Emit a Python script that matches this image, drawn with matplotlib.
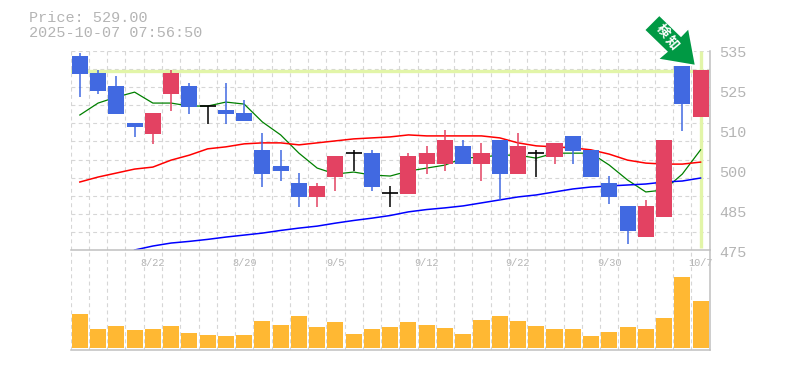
import numpy as np
import matplotlib
matplotlib.use("Agg")
import matplotlib.pyplot as plt
from matplotlib.patches import Polygon, Rectangle

plt.rcParams['font.family'] = ['Liberation Mono', 'Noto Sans CJK JP', 'DejaVu Sans']

# candles, 35 trading days
opens = [533.5, 528.4, 524.4, 513.3, 510.0, 522.0, 524.4, 518.4, 517.2, 516.3,
         505.2, 500.3, 495.2, 491.0, 497.0, 504.2, 504.2, 492.2, 491.9, 500.9,
         500.9, 506.4, 500.9, 508.2, 497.9, 504.2, 503.0, 509.4, 505.2, 495.2,
         488.3, 478.9, 485.0, 530.5, 515.1]
closes = [528.1, 522.9, 516.0, 512.1, 516.3, 528.4, 518.1, 518.4, 516.0, 513.9,
          497.9, 498.8, 491.0, 494.3, 503.3, 504.2, 494.0, 492.2, 503.3, 504.2,
          508.2, 500.9, 504.2, 497.9, 506.4, 504.2, 507.3, 504.9, 497.0, 491.0,
          480.7, 488.3, 508.2, 519.0, 529.3]
highs = [534.4, 529.3, 527.5, 513.3, 516.3, 529.3, 525.4, 518.4, 525.4, 520.2,
         510.3, 505.2, 498.2, 495.2, 503.3, 505.2, 505.2, 494.3, 504.2, 506.4,
         511.2, 508.2, 507.3, 508.2, 510.3, 505.2, 507.3, 509.4, 505.2, 497.3,
         488.3, 490.1, 508.2, 530.5, 529.3]
lows = [521.1, 522.0, 516.0, 509.1, 507.0, 516.9, 516.0, 513.0, 513.0, 513.9,
        494.0, 495.8, 488.0, 488.0, 492.8, 498.8, 492.8, 488.0, 491.9, 497.9,
        498.8, 500.9, 495.8, 490.1, 497.9, 497.0, 500.9, 500.9, 497.0, 488.9,
        476.8, 478.9, 485.0, 510.9, 515.1]

ma_short = [515.7, 519.3, 521.1, 522.6, 519.3, 519.3, 518.4, 518.4, 519.6, 519.0,
            513.6, 509.7, 504.2, 499.7, 497.9, 498.5, 497.6, 497.3, 498.8, 499.7,
            500.6, 502.7, 503.0, 503.6, 503.6, 502.7, 504.2, 504.2, 504.2, 500.6,
            496.1, 492.5, 493.1, 497.9, 505.2]
ma_mid = [495.5, 497.0, 498.2, 499.4, 500.0, 502.1, 503.6, 505.5, 506.1, 507.0,
          507.3, 507.3, 506.7, 507.3, 507.9, 508.5, 508.8, 509.1, 509.7, 509.4,
          509.4, 509.4, 509.4, 508.8, 507.3, 506.4, 506.1, 505.8, 505.2, 503.9,
          502.1, 501.2, 500.9, 500.9, 501.5]
ma_long = [np.nan, np.nan, np.nan, 475.0, 476.2, 477.1, 477.6, 478.2, 478.9, 479.5,
           480.1, 480.9, 481.6, 482.2, 483.1, 483.9, 484.6, 485.4, 486.5, 487.2,
           487.7, 488.3, 489.2, 490.1, 491.0, 491.6, 492.5, 493.4, 494.0, 494.3,
           494.6, 494.9, 495.5, 495.8, 496.7]

volume = [34, 19, 22, 18, 19, 22, 15, 13, 12, 13, 27, 23, 32, 21, 26, 14, 19, 21,
          26, 23, 20, 14, 28, 32, 27, 22, 19, 19, 12, 16, 21, 19, 30, 71, 47]

date_pos = [4, 9, 14, 19, 24, 29, 34]
date_labels = ['8/22', '8/29', '9/5', '9/12', '9/22', '9/30', '10/7']
price_labels = ['535', '525', '510', '500', '485', '475']
last_price = 529.0
title_lines = ['Price: 529.00', '2025-10-07 07:56:50']

W, H = 785, 370
GREY = '#b4b4b4'
AXIS = '#c0c0c0'
GRID = '#d6d6d6'
BLUE = '#4169e1'
RED = '#e34262'
HILITE = '#e2f5a8'
DASH = (0, (3.5, 3))

fig = plt.figure(figsize=(W / 100, H / 100), dpi=100)

def make_axes(left, top, right, bottom):
    return fig.add_axes([left / W, 1 - bottom / H, (right - left) / W, (bottom - top) / H])

ax = make_axes(70.7, 51, 709.7, 250)
axv = make_axes(70.7, 250, 709.7, 350)
n = len(closes)
x = np.arange(n)

for a in (ax, axv):
    a.set_xlim(-0.5, n - 0.5)
    a.patch.set_alpha(0)
    for s in a.spines.values():
        s.set_visible(False)
    a.set_xticks(np.arange(n + 1) - 0.5, minor=True)
    a.tick_params(which='both', length=0)
    a.grid(True, which='minor', axis='x', color=GRID, lw=0.8, ls=DASH)
    a.set_axisbelow(True)
    for side in ('bottom', 'right'):
        a.spines[side].set_visible(True)
        a.spines[side].set_color(AXIS)
        a.spines[side].set_linewidth(1.1)

# price panel
ax.set_ylim(475, 535)
ax.set_yticks(np.linspace(475, 535, 12))
ax.set_yticklabels([])
ax.grid(True, which='major', axis='y', color=GRID, lw=0.8, ls=DASH)
ax.set_xticks(date_pos)
ax.set_xticklabels(date_labels, fontsize=7.4, color=GREY)
ax.tick_params(axis='x', which='major', pad=6)

ax.axhline(last_price, color=HILITE, lw=2.4, zorder=1.5)
ax.plot([n - 1, n - 1], [475.6, 535], color=HILITE, lw=2.4, zorder=1.5, solid_capstyle='butt')

ax.plot(x, ma_short, color='#008000', lw=0.9, zorder=2)
ax.plot(x, ma_mid, color='#ff0000', lw=1.1, zorder=2)
ax.plot(x, ma_long, color='#0000ff', lw=1.1, zorder=2)

for i in x:
    o, c = opens[i], closes[i]
    col = RED if c > o else BLUE if c < o else 'black'
    ax.vlines(i, lows[i], highs[i], color=col, lw=1.1, zorder=3)
    if c == o:
        ax.hlines(c, i - 0.44, i + 0.44, color=col, lw=1.2, zorder=3)
    else:
        ax.add_patch(Rectangle((i - 0.44, min(o, c)), 0.88, abs(c - o), fc=col, ec='none', zorder=3))

# volume panel
axv.set_ylim(-2, 98)
axv.set_yticks([])
axv.set_xticks([])
axv.bar(x, volume, width=0.88, color='#ffb833', zorder=3)

# overlay in pixels for the header, price labels and the signal arrow
over = fig.add_axes([0, 0, 1, 1])
over.set_xlim(0, W)
over.set_ylim(H, 0)
over.axis('off')
over.patch.set_alpha(0)

for line, y in zip(title_lines, [18, 33]):
    over.text(29, y, line, fontsize=10.9, color=GREY, va='center', ha='left')
for label, y in zip(price_labels, [53, 93, 133, 173, 213, 253]):
    over.text(719, y, label, fontsize=10.9, color=GREY, va='center', ha='left')

arrow = [(659.3, 15), (644.3, 30), (666.7, 51.7), (657.7, 59.3),
         (695.7, 65.7), (688.7, 28), (681, 36)]
over.add_patch(Polygon(arrow, closed=True, fc='#009944', ec='white', lw=1.2, zorder=5))
cjk = ['Noto Sans CJK JP', 'DejaVu Sans']
over.text(662.5, 30.5, '検', fontsize=9.5, color='white', fontweight='bold', rotation=-50,
          ha='center', va='center', rotation_mode='anchor', zorder=6, family=cjk)
over.text(672.5, 43, '知', fontsize=9.5, color='white', fontweight='bold', rotation=-50,
          ha='center', va='center', rotation_mode='anchor', zorder=6, family=cjk)

fig.savefig('out.png', dpi=100)
